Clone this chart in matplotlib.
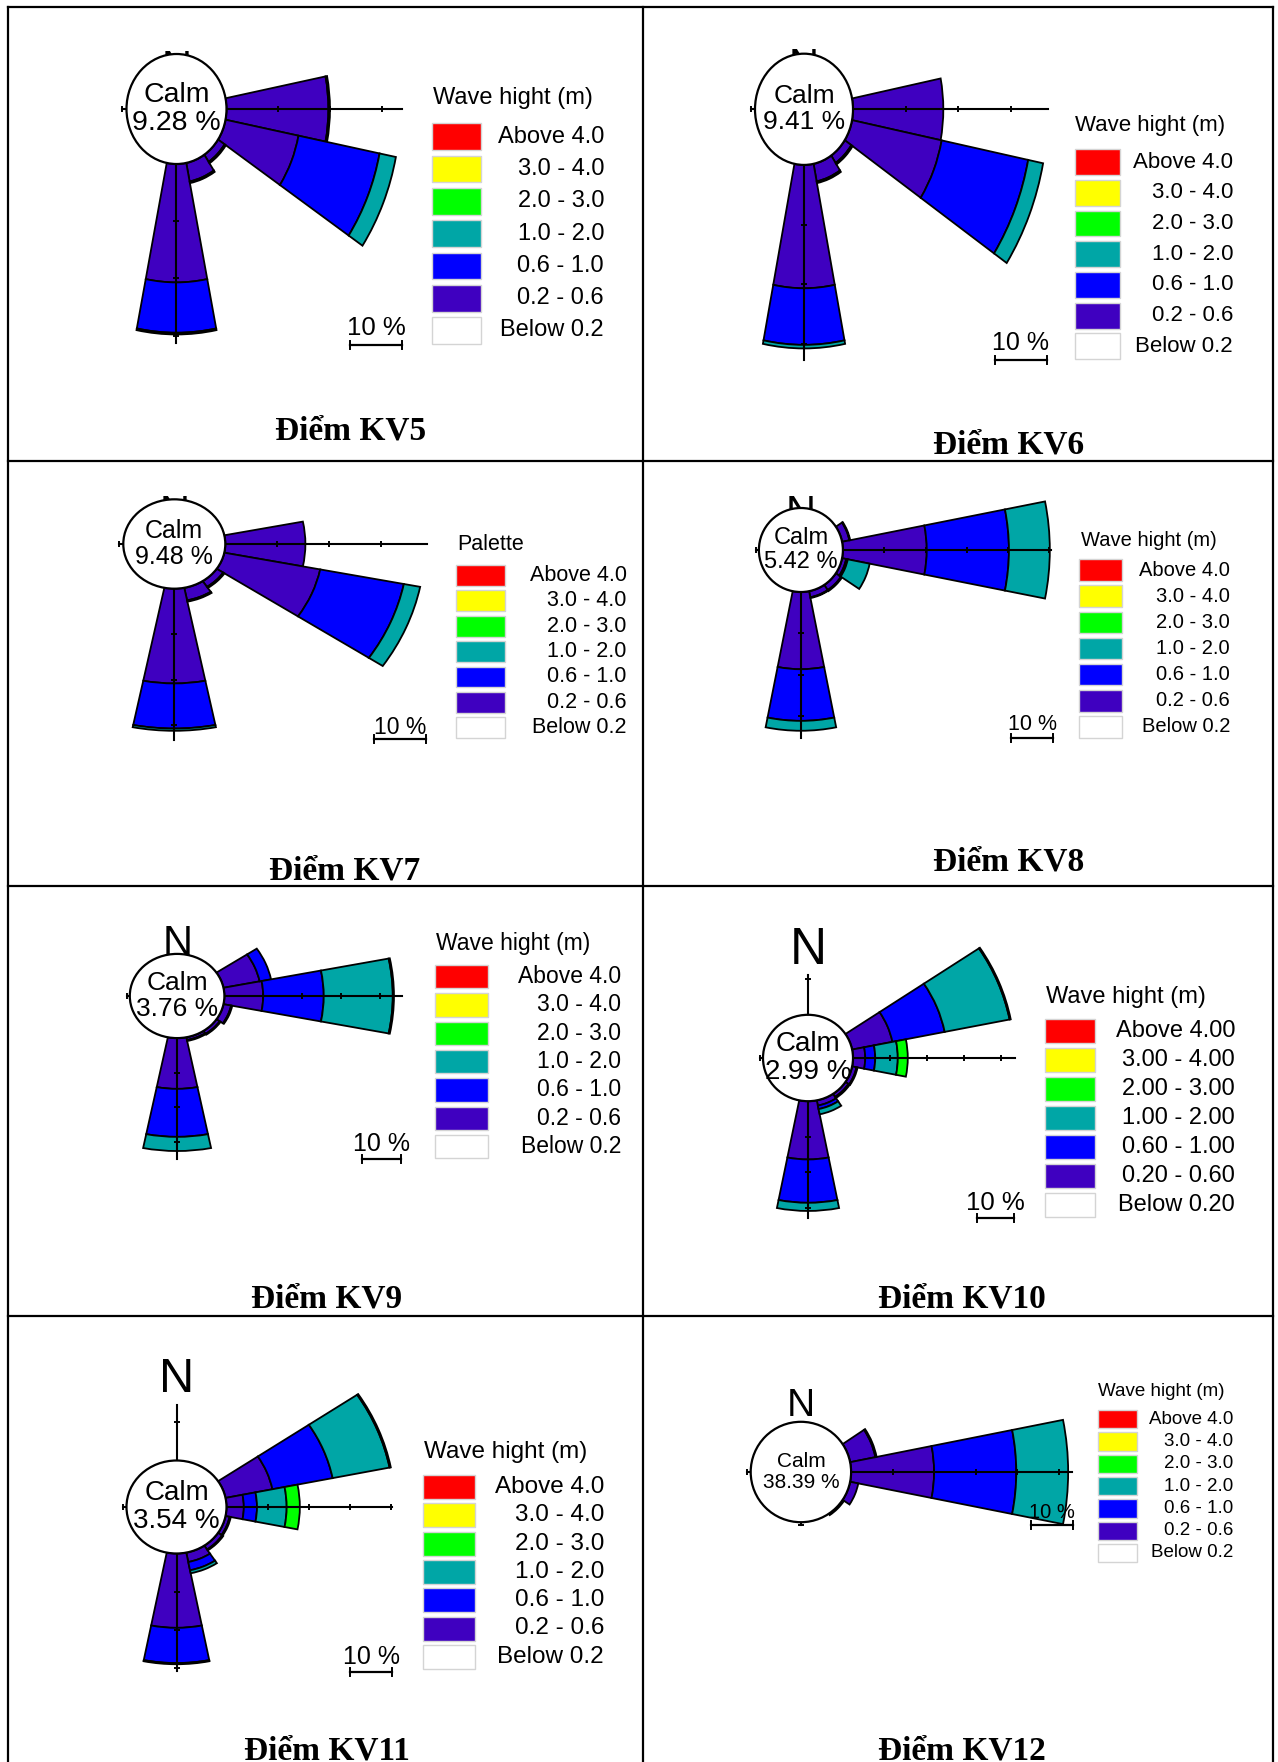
import numpy as np
import matplotlib.pyplot as plt
from matplotlib.patches import Ellipse, Rectangle
from matplotlib.lines import Line2D

W, H = 1278, 1762
SANS = ['Liberation Sans', 'DejaVu Sans']
SERIF = ['Liberation Serif', 'DejaVu Serif']

# 16 compass sectors, clockwise from north
directions = ['N', 'NNE', 'NE', 'ENE', 'E', 'ESE', 'SE', 'SSE',
              'S', 'SSW', 'SW', 'WSW', 'W', 'WNW', 'NW', 'NNW']

class_labels = ['Above 4.0', '3.0 - 4.0', '2.0 - 3.0', '1.0 - 2.0',
                '0.6 - 1.0', '0.2 - 0.6', 'Below 0.2']
class_labels_2d = ['Above 4.00', '3.00 - 4.00', '2.00 - 3.00', '1.00 - 2.00',
                   '0.60 - 1.00', '0.20 - 0.60', 'Below 0.20']
class_colors = ['#ff0000', '#ffff00', '#00ff00', '#00a6a6',
                '#0000ff', '#3f00c0', '#ffffff']

stations = ['KV5', 'KV6', 'KV7', 'KV8', 'KV9', 'KV10', 'KV11', 'KV12']
calm = [9.28, 9.41, 9.48, 5.42, 3.76, 2.99, 3.54, 38.39]

# frequency (%) per direction for each wave height class
#            N  NNE NE  ENE   E     ESE   SE   SSE  S     SSW SW WSW W WNW NW NNW
kv5_02_06 = [0, 0, 0, 0.0, 19.6, 14.3, 1.5, 3.3, 20.7, 0, 0, 0, 0, 0, 0, 0]
kv5_06_10 = [0, 0, 0, 0.0, 0.3, 15.9, 0.3, 0.3, 8.8, 0, 0, 0, 0, 0, 0, 0]
kv5_10_20 = [0, 0, 0, 0.0, 0.0, 3.2, 0.0, 0.0, 0.3, 0, 0, 0, 0, 0, 0, 0]
kv5_20_30 = [0, 0, 0, 0.0, 0.0, 0.0, 0.0, 0.0, 0.0, 0, 0, 0, 0, 0, 0, 0]

kv6_02_06 = [0, 0, 0, 0.0, 17.2, 17.4, 1.5, 3.0, 20.7, 0, 0, 0, 0, 0, 0, 0]
kv6_06_10 = [0, 0, 0, 0.0, 0.0, 16.8, 0.3, 0.3, 9.5, 0, 0, 0, 0, 0, 0, 0]
kv6_10_20 = [0, 0, 0, 0.0, 0.0, 2.9, 0.0, 0.0, 0.6, 0, 0, 0, 0, 0, 0, 0]
kv6_20_30 = [0, 0, 0, 0.0, 0.0, 0.0, 0.0, 0.0, 0.0, 0, 0, 0, 0, 0, 0, 0]

kv7_02_06 = [0, 0, 0, 0.0, 15.4, 18.8, 1.5, 2.8, 20.8, 0, 0, 0, 0, 0, 0, 0]
kv7_06_10 = [0, 0, 0, 0.0, 0.0, 16.4, 0.3, 0.3, 9.9, 0, 0, 0, 0, 0, 0, 0]
kv7_10_20 = [0, 0, 0, 0.0, 0.0, 3.2, 0.0, 0.0, 0.5, 0, 0, 0, 0, 0, 0, 0]
kv7_20_30 = [0, 0, 0, 0.0, 0.0, 0.0, 0.0, 0.0, 0.0, 0, 0, 0, 0, 0, 0, 0]

kv8_02_06 = [0, 0, 0, 1.8, 20.3, 1.0, 1.5, 1.5, 18.7, 0, 0, 0, 0, 0, 0, 0]
kv8_06_10 = [0, 0, 0, 0.2, 19.9, 0.4, 0.3, 0.2, 12.5, 0, 0, 0, 0, 0, 0, 0]
kv8_10_20 = [0, 0, 0, 0.0, 9.9, 5.4, 0.0, 0.0, 2.4, 0, 0, 0, 0, 0, 0, 0]
kv8_20_30 = [0, 0, 0, 0.0, 0.0, 0.0, 0.0, 0.0, 0.0, 0, 0, 0, 0, 0, 0, 0]

kv9_02_06 = [0, 0, 0, 9.5, 10.0, 2.0, 1.0, 0.8, 14.7, 0, 0, 0, 0, 0, 0, 0]
kv9_06_10 = [0, 0, 0, 3.0, 15.6, 0.3, 0.3, 0.3, 13.9, 0, 0, 0, 0, 0, 0, 0]
kv9_10_20 = [0, 0, 0, 0.0, 17.8, 0.0, 0.0, 0.0, 4.1, 0, 0, 0, 0, 0, 0, 0]
kv9_20_30 = [0, 0, 0, 0.0, 0.3, 0.0, 0.0, 0.0, 0.0, 0, 0, 0, 0, 0, 0, 0]

kv10_02_06 = [0, 0, 0, 11.1, 3.3, 1.2, 1.0, 1.5, 16.4, 0, 0, 0, 0, 0, 0, 0]
kv10_06_10 = [0, 0, 0, 14.4, 2.7, 0.3, 0.4, 1.0, 12.2, 0, 0, 0, 0, 0, 0, 0]
kv10_10_20 = [0, 0, 0, 17.9, 6.1, 0.0, 0.0, 1.5, 2.3, 0, 0, 0, 0, 0, 0, 0]
kv10_20_30 = [0, 0, 0, 0.3, 2.7, 0.0, 0.0, 0.0, 0.0, 0, 0, 0, 0, 0, 0, 0]

kv11_02_06 = [0, 0, 0, 11.6, 4.2, 1.0, 1.2, 2.5, 19.4, 0, 0, 0, 0, 0, 0, 0]
kv11_06_10 = [0, 0, 0, 14.9, 3.2, 0.3, 0.3, 2.2, 9.2, 0, 0, 0, 0, 0, 0, 0]
kv11_10_20 = [0, 0, 0, 14.1, 7.2, 0.0, 0.0, 0.8, 0.3, 0, 0, 0, 0, 0, 0, 0]
kv11_20_30 = [0, 0, 0, 0.3, 3.2, 0.0, 0.0, 0.0, 0.0, 0, 0, 0, 0, 0, 0, 0]

kv12_02_06 = [0, 0, 0, 6.2, 20.0, 2.0, 0.4, 0.0, 0.0, 0, 0, 0, 0, 0, 0, 0]
kv12_06_10 = [0, 0, 0, 0.3, 19.8, 0.0, 0.0, 0.0, 0.0, 0, 0, 0, 0, 0, 0, 0]
kv12_10_20 = [0, 0, 0, 0.0, 12.5, 0.0, 0.0, 0.0, 0.0, 0, 0, 0, 0, 0, 0, 0]
kv12_20_30 = [0, 0, 0, 0.0, 0.0, 0.0, 0.0, 0.0, 0.0, 0, 0, 0, 0, 0, 0, 0]

rose_data = {
    'KV5': [kv5_02_06, kv5_06_10, kv5_10_20, kv5_20_30],
    'KV6': [kv6_02_06, kv6_06_10, kv6_10_20, kv6_20_30],
    'KV7': [kv7_02_06, kv7_06_10, kv7_10_20, kv7_20_30],
    'KV8': [kv8_02_06, kv8_06_10, kv8_10_20, kv8_20_30],
    'KV9': [kv9_02_06, kv9_06_10, kv9_10_20, kv9_20_30],
    'KV10': [kv10_02_06, kv10_06_10, kv10_10_20, kv10_20_30],
    'KV11': [kv11_02_06, kv11_06_10, kv11_10_20, kv11_20_30],
    'KV12': [kv12_02_06, kv12_06_10, kv12_10_20, kv12_20_30],
}
stack_colors = [class_colors[5], class_colors[4], class_colors[3], class_colors[2]]

# length of the N, E, S, W reference axes (%)
axis_len = {
    'KV5': [0, 33.7, 31.3, 0.8],
    'KV6': [0, 37.1, 32.7, 0.8],
    'KV7': [0, 38.7, 33.2, 0.8],
    'KV8': [0, 50.5, 35.4, 0.8],
    'KV9': [0, 45.7, 35.0, 0.8],
    'KV10': [11.3, 43.8, 32.9, 0.8],
    'KV11': [14.6, 40.1, 30.7, 0.8],
    'KV12': [0, 53.3, 0.6, 0.8],
}

# page layout of each cell (pixels, y downward)
layout = {
    'KV5': dict(c=(176.5, 109), r=50, ppx=5.2, s=1.1, n=(176.5, 80, 30), calm_fs=20.5,
                leg=(433, 98.3, 432, 49, 123.3, 26.7, 32.3, 604, 17), leg_title='Wave hight (m)',
                bar=(376, 345, 328, 18.5), title=(351, 440)),
    'KV6': dict(c=(804, 109.3), r=49, ppx=5.25, s=1.135, n=(804, 78, 30), calm_fs=19,
                leg=(1075, 126, 1075, 45, 149.3, 25.7, 30.7, 1233, 16), leg_title='Wave hight (m)',
                bar=(1021, 360, 343, 18), title=(1009, 453)),
    'KV7': dict(c=(174.3, 544), r=51, ppx=5.2, s=0.876, n=(174.7, 525, 30), calm_fs=18,
                leg=(457, 545, 456, 49, 565, 20.7, 25.4, 626.5, 15.5), leg_title='Palette',
                bar=(400, 739, 727, 16.5), title=(345, 880)),
    'KV8': dict(c=(800.9, 550), r=42, ppx=4.13, s=1.0, n=(801, 525, 30), calm_fs=17,
                leg=(1080.6, 540, 1079, 43, 559.3, 21.7, 26.1, 1230, 14.5), leg_title='Wave hight (m)',
                bar=(1032, 738, 725, 15.5), title=(1009, 870)),
    'KV9': dict(c=(177.1, 996), r=47.3, ppx=3.88, s=0.89, n=(177.6, 955, 30), calm_fs=19,
                leg=(436, 943.3, 434.7, 53, 965, 23.3, 28.3, 621, 16.5), leg_title='Wave hight (m)',
                bar=(381.6, 1159, 1144, 18), title=(327, 1308)),
    'KV10': dict(c=(808, 1058), r=45, ppx=3.7, s=0.96, n=(808, 963.5, 37), calm_fs=20,
                 leg=(1046, 997, 1045, 50, 1019, 24, 29, 1235, 17), leg_title='Wave hight (m)',
                 bar=(995.5, 1218, 1203, 18.5), title=(962, 1308)),
    'KV11': dict(c=(176.5, 1507), r=50, ppx=4.12, s=0.93, n=(176.7, 1391.5, 35), calm_fs=20,
                 leg=(424.5, 1451.7, 423.3, 51.4, 1475, 24, 28.3, 604, 17.5), leg_title='Wave hight (m)',
                 bar=(371, 1671.7, 1656.7, 18), title=(327, 1760)),
    'KV12': dict(c=(800.9, 1472), r=50.2, ppx=4.15, s=1.0, n=(801, 1416, 28), calm_fs=15,
                 leg=(1098, 1391.7, 1097.8, 39, 1410, 18.3, 22.3, 1233, 13.5), leg_title='Wave hight (m)',
                 bar=(1052, 1525, 1513, 14.5), title=(962, 1760)),
}

RMAX = 60.0
theta = np.deg2rad(np.arange(16) * 22.5)
sector = np.deg2rad(22.5)


def fx(x):
    return x / W


def fy(y):
    return 1 - y / H


fig = plt.figure(figsize=(W / 100, H / 100), dpi=100)
fig.patch.set_facecolor('white')

for i, st in enumerate(stations):
    p = layout[st]
    cx, cy = p['c']
    ppx, s, cr = p['ppx'], p['s'], p['r']
    half_w = cr + RMAX * ppx
    half_h = half_w * s
    ax = fig.add_axes([fx(cx - half_w), fy(cy + half_h), 2 * half_w / W, 2 * half_h / H],
                      projection='polar')
    ax.set_theta_zero_location('N')
    ax.set_theta_direction(-1)
    ax.set_ylim(0, RMAX)
    ax.set_rorigin(-cr / ppx)
    ax.set_aspect('auto')
    ax.set_axis_off()

    # stacked sectors
    bottom = np.zeros(16)
    for vals, col in zip(rose_data[st], stack_colors):
        vals = np.asarray(vals, dtype=float)
        m = vals > 0
        if m.any():
            bars = ax.bar(theta[m], vals[m], width=sector, bottom=bottom[m], color=col,
                          edgecolor='black', linewidth=1.3, zorder=2)
            for b in bars:
                b.set_clip_on(False)
        bottom += vals

    # N / E / S / W reference axes with 10 % ticks
    for ang, length, mk in zip([0, 90, 180, 270], axis_len[st], ['_', '|', '_', '|']):
        if length <= 0:
            continue
        t = np.deg2rad(ang)
        ax.plot([t, t], [0, length], color='black', lw=1.5, zorder=3, clip_on=False)
        ticks = list(np.arange(10, length + 0.01, 10))
        if length < 10:
            ticks = [length]
        ax.plot(np.full(len(ticks), t), ticks, ls='none', marker=mk, ms=5, mew=1.4,
                color='black', zorder=3, clip_on=False)

    # north label sits behind the calm circle
    nx, ny, nfs = p['n']
    ax.text(fx(nx), fy(ny), 'N', transform=fig.transFigure, ha='center', va='baseline',
            fontsize=nfs, family=SANS, zorder=4, clip_on=False)

    f = cr / half_w
    ax.add_patch(Ellipse((0.5, 0.5), f, f, transform=ax.transAxes, facecolor='white',
                         edgecolor='black', lw=1.6, zorder=5, clip_on=False))
    ax.text(0.5, 0.5, 'Calm\n%.2f %%' % calm[i], transform=ax.transAxes, ha='center',
            va='center', fontsize=p['calm_fs'], family=SANS, zorder=6, linespacing=1.1)

    # legend
    tx, ty, bx, bw, btop, bh, pitch, lx, lfs = p['leg']
    fig.text(fx(tx), fy(ty), p['leg_title'], ha='left', va='center', fontsize=lfs, family=SANS)
    labels = class_labels_2d if st == 'KV10' else class_labels
    for k, (lab, col) in enumerate(zip(labels, class_colors)):
        top = btop + k * pitch
        fig.add_artist(Rectangle((fx(bx), fy(top + bh)), bw / W, bh / H, transform=fig.transFigure,
                                 facecolor=col, edgecolor='#d4d4d4', lw=1.0))
        fig.text(fx(lx), fy(top + bh / 2), lab, ha='right', va='center', fontsize=lfs, family=SANS)

    # 10 % scale bar
    bcx, by, bty, bfs = p['bar']
    x0, x1 = bcx - 5 * ppx, bcx + 5 * ppx
    fig.add_artist(Line2D([fx(x0), fx(x1)], [fy(by), fy(by)], color='black', lw=1.6,
                          transform=fig.transFigure))
    for xe in (x0, x1):
        fig.add_artist(Line2D([fx(xe), fx(xe)], [fy(by - 4), fy(by + 4)], color='black', lw=1.4,
                              transform=fig.transFigure))
    fig.text(fx(bcx), fy(bty), '10 %', ha='center', va='center', fontsize=bfs, family=SANS)

    # cell caption
    tx2, tb = p['title']
    fig.text(fx(tx2), fy(tb), 'Điểm ' + st, ha='center', va='baseline', fontsize=24,
             fontweight='bold', family=SERIF)

# table grid
grid = [([8, 1273], [7, 7]), ([8, 8], [7, 1762]), ([1273, 1273], [7, 1762]),
        ([643, 643], [7, 1762]), ([8, 1273], [461, 461]), ([8, 1273], [886, 886]),
        ([8, 1273], [1316, 1316])]
for xs, ys in grid:
    fig.add_artist(Line2D([fx(v) for v in xs], [fy(v) for v in ys], color='black', lw=1.6,
                          transform=fig.transFigure))

fig.savefig('out.png', dpi=100)
